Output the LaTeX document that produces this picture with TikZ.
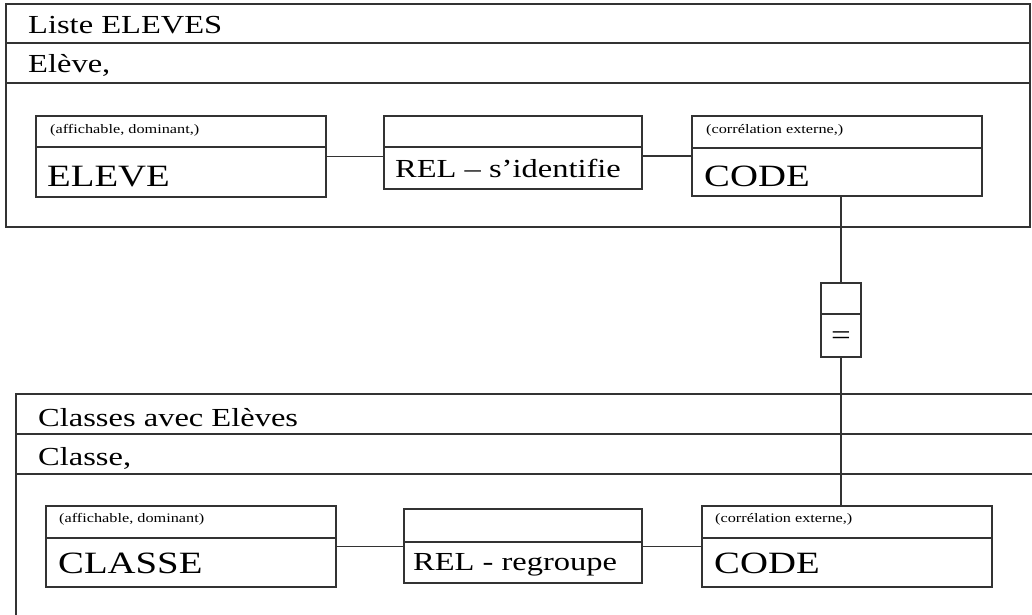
\documentclass[tikz,border=0pt]{standalone}
\usepackage{fontspec}
\setmainfont{Liberation Serif}[FakeStretch=1.25]
\begin{document}
\begin{tikzpicture}[x=1pt,y=-1pt]
\tikzset{
  ink/.style={draw=black!80, line width=1.2pt},
  entbox/.style={ink, rectangle, inner sep=0pt, outer sep=0pt, anchor=north west},
  lbl/.style={anchor=base west, inner sep=0pt, text=black},
  bigtxt/.style={lbl, font=\fontsize{31}{36}\selectfont},
  midtxt/.style={lbl, font=\fontsize{26}{30}\selectfont},
  smalltxt/.style={lbl, font=\fontsize{13}{15}\selectfont},
}
\useasboundingbox (0,0) rectangle (1032,614);
\clip (0,0) rectangle (1032,614);

% ---------- upper view: Liste ELEVES ----------
\node[entbox, minimum width=1024pt, minimum height=223pt] (liste) at (6,4) {};
\draw[ink] (liste.west |- 0,43) -- (liste.east |- 0,43);
\draw[ink] (liste.west |- 0,83) -- (liste.east |- 0,83);
\node[midtxt] (listeTitle) at (28,33) {Liste ELEVES};
\node[midtxt] (listeSub) at (28,72) {Elève,};

\node[entbox, minimum width=290pt, minimum height=81pt] (eleve) at (36,116) {};
\draw[ink] (eleve.west |- 0,147) -- (eleve.east |- 0,147);
\node[smalltxt] (eleveProp) at (50,133) {(affichable, dominant,)};
\node[bigtxt] (eleveName) at (47,186) {ELEVE};

\node[entbox, minimum width=258pt, minimum height=73pt] (rel1) at (384,116) {};
\draw[ink] (rel1.west |- 0,147) -- (rel1.east |- 0,147);
\node[midtxt] (rel1Name) at (395,177) {REL – s’identifie};

\node[entbox, minimum width=290pt, minimum height=80pt] (code1) at (692,116) {};
\draw[ink] (code1.west |- 0,148) -- (code1.east |- 0,148);
\node[smalltxt] (code1Prop) at (706,133) {(corrélation externe,)};
\node[bigtxt] (code1Name) at (704,186) {CODE};

\draw[ink] (eleve.east) -- (eleve.east -| rel1.west);
\draw[ink] (code1.west) -- (code1.west -| rel1.east);

% ---------- equality join ----------
\node[entbox, minimum width=40pt, minimum height=74pt] (eq) at (821,283) {};
\draw[ink] (eq.west |- 0,314) -- (eq.east |- 0,314);
\node[anchor=base, inner sep=0pt, font=\fontsize{28}{32}\selectfont] (eqSign) at (841,344) {=};

% ---------- lower view: Classes avec Elèves ----------
\node[entbox, minimum width=1040pt, minimum height=240pt] (classes) at (16,394) {};
\draw[ink] (classes.west |- 0,434) -- (classes.east |- 0,434);
\draw[ink] (classes.west |- 0,474) -- (classes.east |- 0,474);
\node[midtxt] (classesTitle) at (38,426) {Classes avec Elèves};
\node[midtxt] (classesSub) at (38,465) {Classe,};

\node[entbox, minimum width=290pt, minimum height=81pt] (classe) at (46,506) {};
\draw[ink] (classe.west |- 0,538) -- (classe.east |- 0,538);
\node[smalltxt] (classeProp) at (59,522) {(affichable, dominant)};
\node[bigtxt] (classeName) at (58,573) {CLASSE};

\node[entbox, minimum width=238pt, minimum height=74pt] (rel2) at (404,509) {};
\draw[ink] (rel2.west |- 0,542) -- (rel2.east |- 0,542);
\node[midtxt] (rel2Name) at (413,570) {REL - regroupe};

\node[entbox, minimum width=290pt, minimum height=81pt] (code2) at (702,506) {};
\draw[ink] (code2.west |- 0,538) -- (code2.east |- 0,538);
\node[smalltxt] (code2Prop) at (715,522) {(corrélation externe,)};
\node[bigtxt] (code2Name) at (714,573) {CODE};

\draw[ink] (classe.east) -- (classe.east -| rel2.west);
\draw[ink] (code2.west) -- (code2.west -| rel2.east);

% ---------- link between the two CODE entities ----------
\draw[ink] (eq.north) -- (eq.north |- code1.south);
\draw[ink] (eq.south) -- (eq.south |- code2.north);
\end{tikzpicture}
\end{document}
